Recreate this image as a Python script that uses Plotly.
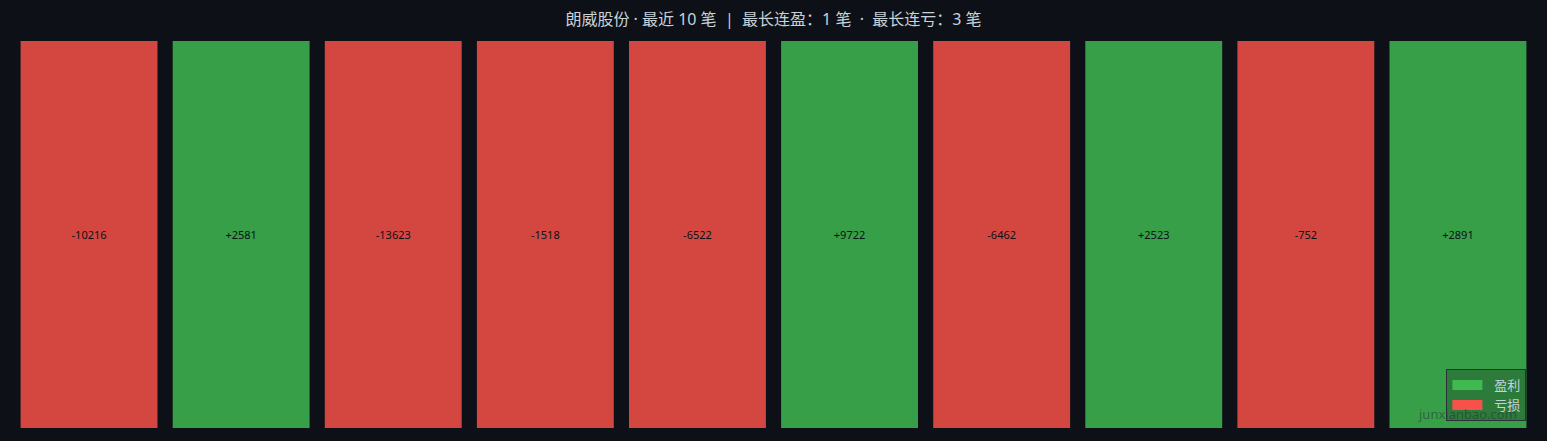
import plotly.graph_objects as go

stock_name = "朗威股份"
trade_labels = ["1", "2", "3", "4", "5", "6", "7", "8", "9", "10"]
pnl = [-10216, 2581, -13623, -1518, -6522, 9722, -6462, 2523, -752, 2891]
max_win_streak = 1
max_loss_streak = 3

GREEN = "#3fb950"
RED = "#f85149"
BG = "#0d1117"

colors = [GREEN if v > 0 else RED for v in pnl]
texts = [f"{v:+d}" for v in pnl]

fig = go.Figure()
fig.add_trace(go.Bar(
    x=trade_labels, y=[1] * len(pnl),
    marker=dict(color=colors, opacity=0.85, line=dict(width=0)),
    text=texts, textposition="inside", insidetextanchor="middle",
    textfont=dict(color="#0d1117", size=11, family="Noto Sans, sans-serif"),
    showlegend=False, hoverinfo="text",
))
# legend only (wide swatches)
fig.add_trace(go.Scatter(x=[None], y=[None], mode="lines", name="\u00a0\u00a0盈利",
                         line=dict(color=GREEN, width=14)))
fig.add_trace(go.Scatter(x=[None], y=[None], mode="lines", name="\u00a0\u00a0亏损",
                         line=dict(color=RED, width=14)))

sp = "\u00a0\u00a0"
title = (f"{stock_name} · 最近 {len(pnl)} 笔{sp}|{sp}最长连盈：{max_win_streak} 笔"
         f"{sp}·{sp}最长连亏：{max_loss_streak} 笔")

fig.update_layout(
    width=1547, height=441,
    paper_bgcolor=BG, plot_bgcolor=BG,
    font=dict(family="Noto Sans, Noto Sans CJK SC, sans-serif", color="#c9d1d9"),
    title=dict(text=title, x=0.5, xanchor="center", y=0.955, yanchor="middle",
               font=dict(size=16, color="#c9d1d9")),
    margin=dict(l=13, r=13, t=41, b=13),
    bargap=0.1, barmode="overlay",
    xaxis=dict(visible=False, type="category"),
    yaxis=dict(visible=False, range=[0, 1]),
    legend=dict(x=0.995, xanchor="right", y=0.018, yanchor="bottom",
                bgcolor="rgba(13,17,23,0.25)", bordercolor="#2a3038", borderwidth=1,
                font=dict(size=13, color="#c9d1d9")),
    annotations=[dict(text="junxianbao.com", xref="paper", yref="paper",
                      x=0.99, y=0.008, xanchor="right", yanchor="bottom",
                      showarrow=False, font=dict(size=13, color="rgba(40,48,58,0.55)"))],
)

fig.write_html("out.html", config={"displayModeBar": False},
               post_script="document.body.style.margin='0';document.body.style.background='#0d1117';")
